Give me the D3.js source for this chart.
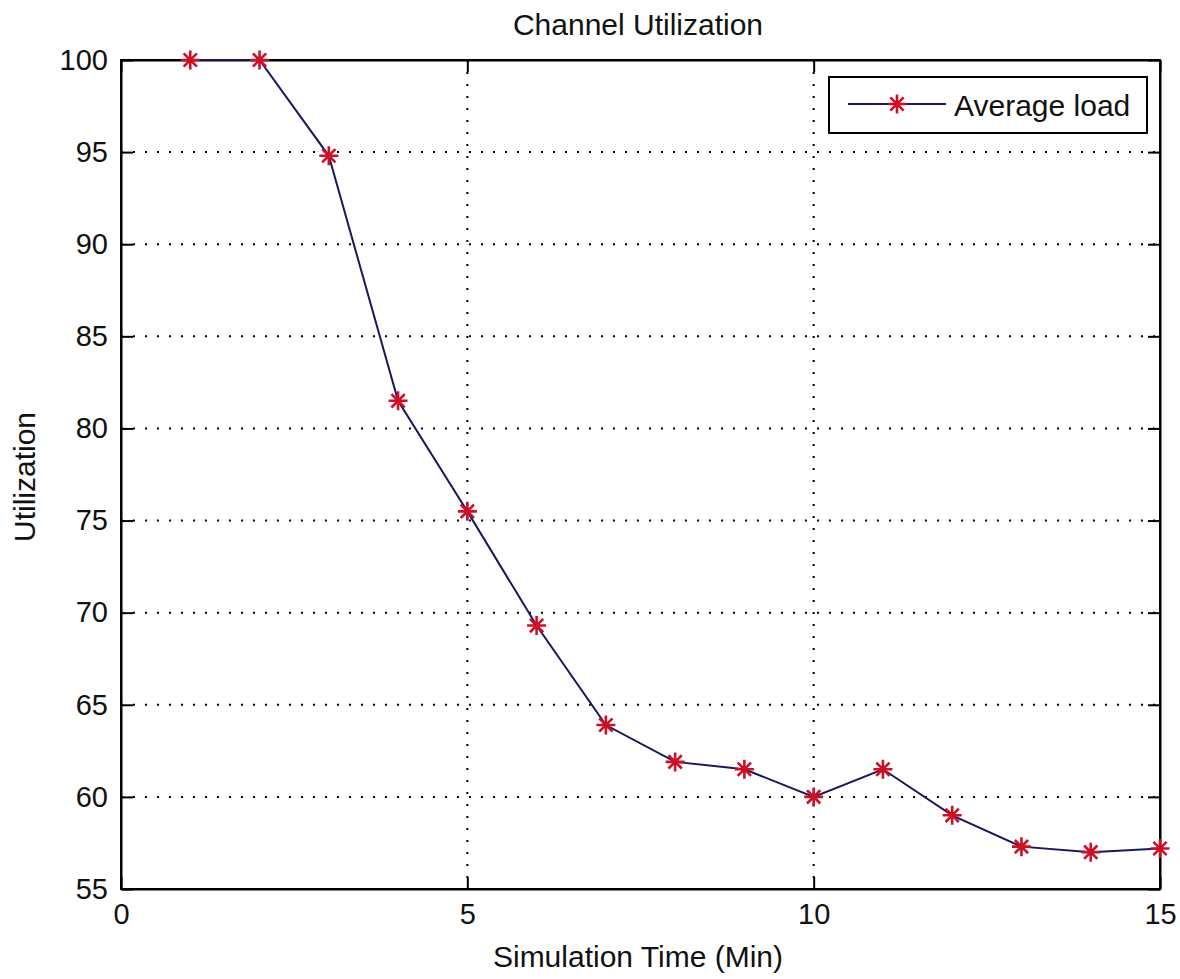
<!DOCTYPE html>
<html>
<head>
<meta charset="utf-8">
<script src="https://cdn.jsdelivr.net/npm/d3@7"></script>
<style>
  body { margin: 0; background: #fff; }
  text { font-family: "Liberation Sans", Arial, sans-serif; fill: #111; }
</style>
</head>
<body>
<div id="chart"></div>
<script>
// data
var minutes = [1, 2, 3, 4, 5, 6, 7, 8, 9, 10, 11, 12, 13, 14, 15];
var avgLoad = [100, 100, 94.8, 81.5, 75.5, 69.3, 63.9, 61.9, 61.5, 60.0, 61.5, 59.0, 57.3, 57.0, 57.2];
var xTicks = [0, 5, 10, 15];
var yTicks = [55, 60, 65, 70, 75, 80, 85, 90, 95, 100];
var seriesName = "Average load";

var totalWidth = 1180, totalHeight = 979;
var margin = { left: 121, top: 60, right: 20, bottom: 90 };
var width = totalWidth - margin.left - margin.right;   // 1039
var height = totalHeight - margin.top - margin.bottom; // 829

var x = d3.scaleLinear().domain([0, 15]).range([0, width]);
var y = d3.scaleLinear().domain([55, 100]).range([height, 0]);

var svg = d3.select('#chart')
  .append('svg')
    .attr('width', totalWidth)
    .attr('height', totalHeight)
    .style('background', '#ffffff');

var g = svg.append('g')
  .attr('transform', 'translate(' + margin.left + ',' + margin.top + ')');

// dotted grid
g.selectAll('.gx').data(xTicks.slice(1, -1)).enter().append('line')
  .attr('x1', d => x(d)).attr('x2', d => x(d))
  .attr('y1', 0).attr('y2', height)
  .attr('stroke', '#000').attr('stroke-width', 2)
  .attr('stroke-dasharray', '2,10');
g.selectAll('.gy').data(yTicks.slice(1, -1)).enter().append('line')
  .attr('x1', 0).attr('x2', width)
  .attr('y1', d => y(d)).attr('y2', d => y(d))
  .attr('stroke', '#000').attr('stroke-width', 2)
  .attr('stroke-dasharray', '2,10');

// axes with inward ticks (box style)
var fontSize = '29px';
var xAxis = d3.axisBottom(x).tickValues(xTicks).tickSizeInner(-12).tickSizeOuter(0).tickPadding(14);
var yAxis = d3.axisLeft(y).tickValues(yTicks).tickSizeInner(-12).tickSizeOuter(0).tickPadding(13);

var gx = g.append('g').attr('transform', 'translate(0,' + height + ')').call(xAxis);
var gy = g.append('g').call(yAxis);
g.append('g').call(d3.axisTop(x).tickValues(xTicks).tickSizeInner(-12).tickSizeOuter(0).tickFormat(''));
g.append('g').attr('transform', 'translate(' + width + ',0)')
  .call(d3.axisRight(y).tickValues(yTicks).tickSizeInner(-12).tickSizeOuter(0).tickFormat(''));

g.selectAll('.domain').attr('stroke', '#000').attr('stroke-width', 2);
g.selectAll('.tick line').attr('stroke', '#000').attr('stroke-width', 2);
g.selectAll('.tick text').style('font-size', fontSize).attr('fill', '#111')
  .style('font-family', '"Liberation Sans", Arial, sans-serif');

// box outline
g.append('rect').attr('x', 0).attr('y', 0).attr('width', width).attr('height', height)
  .attr('fill', 'none').attr('stroke', '#000').attr('stroke-width', 2);

// asterisk marker path
function star(cx, cy, r) {
  var d = r * 0.7;
  return 'M' + (cx - r) + ',' + cy + 'L' + (cx + r) + ',' + cy +
    'M' + cx + ',' + (cy - r) + 'L' + cx + ',' + (cy + r) +
    'M' + (cx - d) + ',' + (cy - d) + 'L' + (cx + d) + ',' + (cy + d) +
    'M' + (cx - d) + ',' + (cy + d) + 'L' + (cx + d) + ',' + (cy - d);
}

var data = minutes.map((m, i) => ({ t: m, v: avgLoad[i] }));

var line = d3.line().x(d => x(d.t)).y(d => y(d.v));
g.append('path').datum(data)
  .attr('d', line)
  .attr('fill', 'none')
  .attr('stroke', '#18185e')
  .attr('stroke-width', 2);

g.selectAll('.mark').data(data).enter().append('path')
  .attr('d', d => star(x(d.t), y(d.v), 9.5))
  .attr('stroke', '#cc1028')
  .attr('stroke-width', 2.6)
  .attr('fill', 'none');

// title & labels
svg.append('text').attr('x', 638).attr('y', 35).attr('text-anchor', 'middle')
  .style('font-size', '30px').text('Channel Utilization');
svg.append('text').attr('x', 638).attr('y', 967).attr('text-anchor', 'middle')
  .style('font-size', '30px').text('Simulation Time (Min)');
svg.append('text').attr('transform', 'translate(35,477) rotate(-90)').attr('text-anchor', 'middle')
  .style('font-size', '30px').text('Utilization');

// legend
var lg = svg.append('g');
lg.append('rect').attr('x', 829).attr('y', 77).attr('width', 318).attr('height', 56)
  .attr('fill', '#fff').attr('stroke', '#000').attr('stroke-width', 2);
lg.append('line').attr('x1', 848).attr('x2', 946).attr('y1', 104).attr('y2', 104)
  .attr('stroke', '#18185e').attr('stroke-width', 2);
lg.append('path').attr('d', star(897, 104, 9.5))
  .attr('stroke', '#cc1028').attr('stroke-width', 2.6).attr('fill', 'none');
lg.append('text').attr('x', 954).attr('y', 116).style('font-size', '30px').text(seriesName);
</script>
</body>
</html>
